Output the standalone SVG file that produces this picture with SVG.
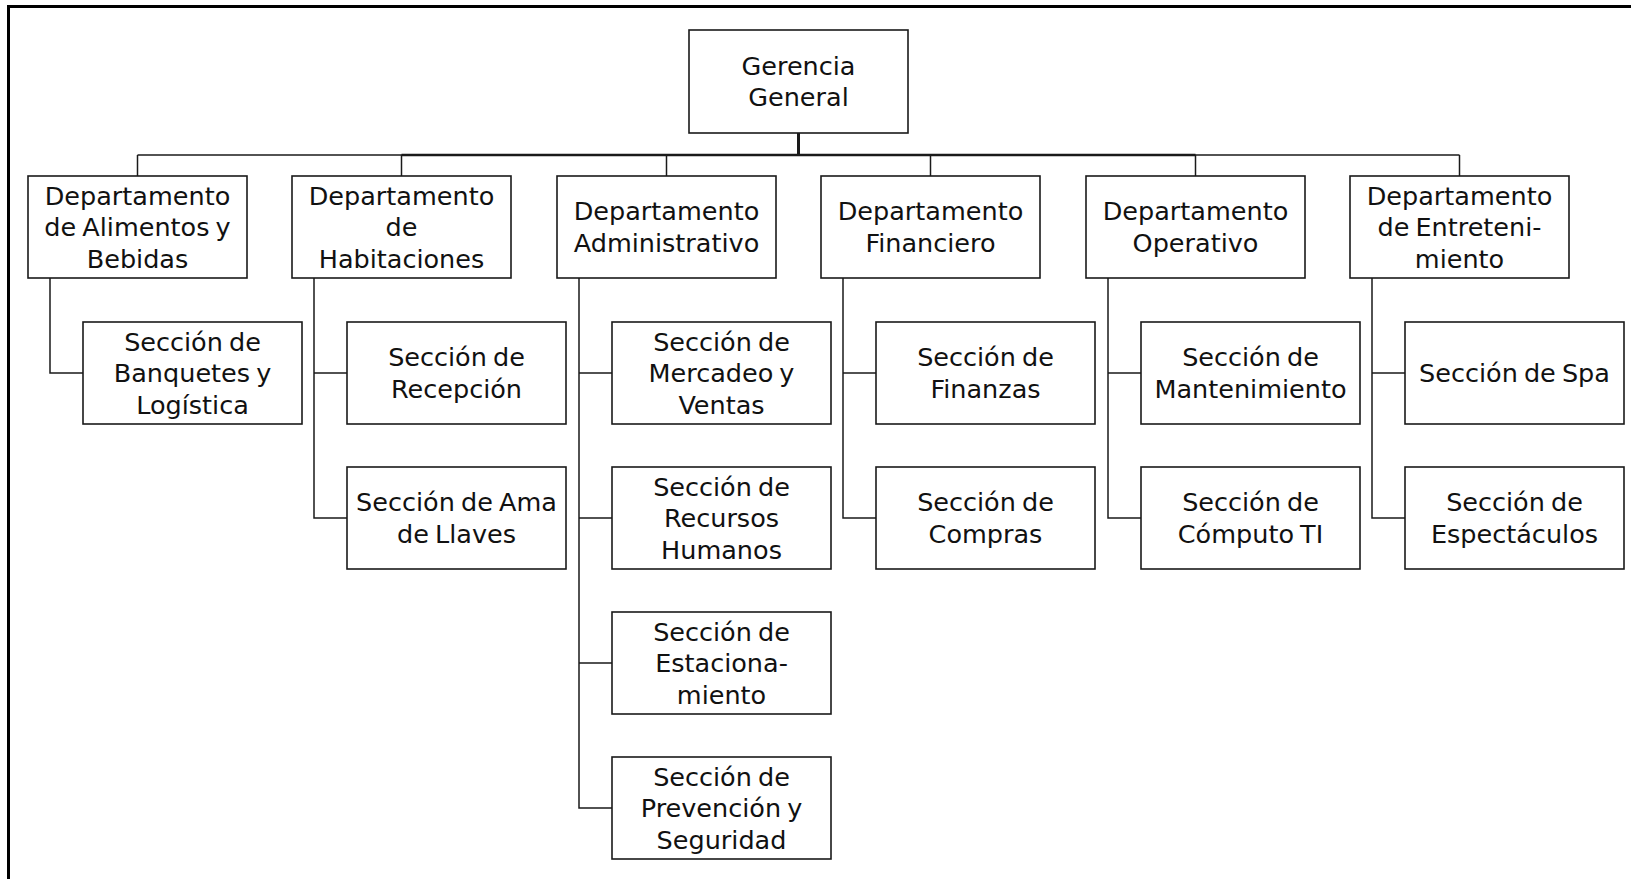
<svg xmlns="http://www.w3.org/2000/svg" width="1631" height="879" viewBox="0 0 1631 879">
<style>
.b{fill:#fff;stroke:#1a1a1a;stroke-width:1.6}
.c{fill:none;stroke:#1a1a1a;stroke-width:1.5}
.t{font-family:"DejaVu Sans",sans-serif;font-size:25.5px;word-spacing:-2px;text-anchor:middle;fill:#111}
</style>
<rect width="1631" height="879" fill="#fff"/>
<g id="frame" fill="none" stroke="#000" stroke-width="3">
<line x1="7" y1="6.5" x2="1631" y2="6.5"/>
<line x1="8.5" y1="5" x2="8.5" y2="879"/>
</g>
<g id="connectors">
<line class="c" x1="798.5" y1="133" x2="798.5" y2="155" style="stroke-width:3"/>
<line class="c" x1="137.5" y1="155" x2="1459.5" y2="155"/>
<line class="c" x1="401.5" y1="155" x2="1195.5" y2="155" style="stroke-width:2.4"/>
<line class="c" x1="137.5" y1="155" x2="137.5" y2="176"/>
<line class="c" x1="401.5" y1="155" x2="401.5" y2="176"/>
<line class="c" x1="666.5" y1="155" x2="666.5" y2="176"/>
<line class="c" x1="930.5" y1="155" x2="930.5" y2="176"/>
<line class="c" x1="1195.5" y1="155" x2="1195.5" y2="176"/>
<line class="c" x1="1459.5" y1="155" x2="1459.5" y2="176"/>
<path class="c" d="M50 278V373H83"/>
<path class="c" d="M314 278V518H347M314 373H347"/>
<path class="c" d="M579 278V808H612M579 373H612M579 518H612M579 663H612"/>
<path class="c" d="M843 278V518H876M843 373H876"/>
<path class="c" d="M1108 278V518H1141M1108 373H1141"/>
<path class="c" d="M1372 278V518H1405M1372 373H1405"/>
</g>
<g id="gerencia"><rect class="b" x="689" y="30" width="219" height="103"/><text class="t" x="798.5" y="74.75"><tspan x="798.5">Gerencia</tspan><tspan x="798.5" dy="31.5">General</tspan></text></g>
<g id="dep-alimentos"><rect class="b" x="28" y="176" width="219" height="102"/><text class="t" y="204.5"><tspan x="137.5">Departamento</tspan><tspan x="137.5" dy="31.5">de Alimentos y</tspan><tspan x="137.5" dy="31.5">Bebidas</tspan></text></g>
<g id="dep-habitaciones"><rect class="b" x="292" y="176" width="219" height="102"/><text class="t" y="204.5"><tspan x="401.5">Departamento</tspan><tspan x="401.5" dy="31.5">de</tspan><tspan x="401.5" dy="31.5">Habitaciones</tspan></text></g>
<g id="dep-administrativo"><rect class="b" x="557" y="176" width="219" height="102"/><text class="t" y="220.25"><tspan x="666.5">Departamento</tspan><tspan x="666.5" dy="31.5">Administrativo</tspan></text></g>
<g id="dep-financiero"><rect class="b" x="821" y="176" width="219" height="102"/><text class="t" y="220.25"><tspan x="930.5">Departamento</tspan><tspan x="930.5" dy="31.5">Financiero</tspan></text></g>
<g id="dep-operativo"><rect class="b" x="1086" y="176" width="219" height="102"/><text class="t" y="220.25"><tspan x="1195.5">Departamento</tspan><tspan x="1195.5" dy="31.5">Operativo</tspan></text></g>
<g id="dep-entretenimiento"><rect class="b" x="1350" y="176" width="219" height="102"/><text class="t" y="204.5"><tspan x="1459.5">Departamento</tspan><tspan x="1459.5" dy="31.5">de Entreteni-</tspan><tspan x="1459.5" dy="31.5">miento</tspan></text></g>
<g id="sec-banquetes"><rect class="b" x="83" y="322" width="219" height="102"/><text class="t" y="350.5"><tspan x="192.5">Sección de</tspan><tspan x="192.5" dy="31.5">Banquetes y</tspan><tspan x="192.5" dy="31.5">Logística</tspan></text></g>
<g id="sec-recepcion"><rect class="b" x="347" y="322" width="219" height="102"/><text class="t" y="366.25"><tspan x="456.5">Sección de</tspan><tspan x="456.5" dy="31.5">Recepción</tspan></text></g>
<g id="sec-ama"><rect class="b" x="347" y="467" width="219" height="102"/><text class="t" y="511.25"><tspan x="456.5">Sección de Ama</tspan><tspan x="456.5" dy="31.5">de Llaves</tspan></text></g>
<g id="sec-mercadeo"><rect class="b" x="612" y="322" width="219" height="102"/><text class="t" y="350.5"><tspan x="721.5">Sección de</tspan><tspan x="721.5" dy="31.5">Mercadeo y</tspan><tspan x="721.5" dy="31.5">Ventas</tspan></text></g>
<g id="sec-rrhh"><rect class="b" x="612" y="467" width="219" height="102"/><text class="t" y="495.5"><tspan x="721.5">Sección de</tspan><tspan x="721.5" dy="31.5">Recursos</tspan><tspan x="721.5" dy="31.5">Humanos</tspan></text></g>
<g id="sec-estacionamiento"><rect class="b" x="612" y="612" width="219" height="102"/><text class="t" y="640.5"><tspan x="721.5">Sección de</tspan><tspan x="721.5" dy="31.5">Estaciona-</tspan><tspan x="721.5" dy="31.5">miento</tspan></text></g>
<g id="sec-prevencion"><rect class="b" x="612" y="757" width="219" height="102"/><text class="t" y="785.5"><tspan x="721.5">Sección de</tspan><tspan x="721.5" dy="31.5">Prevención y</tspan><tspan x="721.5" dy="31.5">Seguridad</tspan></text></g>
<g id="sec-finanzas"><rect class="b" x="876" y="322" width="219" height="102"/><text class="t" y="366.25"><tspan x="985.5">Sección de</tspan><tspan x="985.5" dy="31.5">Finanzas</tspan></text></g>
<g id="sec-compras"><rect class="b" x="876" y="467" width="219" height="102"/><text class="t" y="511.25"><tspan x="985.5">Sección de</tspan><tspan x="985.5" dy="31.5">Compras</tspan></text></g>
<g id="sec-mantenimiento"><rect class="b" x="1141" y="322" width="219" height="102"/><text class="t" y="366.25"><tspan x="1250.5">Sección de</tspan><tspan x="1250.5" dy="31.5">Mantenimiento</tspan></text></g>
<g id="sec-computo"><rect class="b" x="1141" y="467" width="219" height="102"/><text class="t" y="511.25"><tspan x="1250.5">Sección de</tspan><tspan x="1250.5" dy="31.5">Cómputo TI</tspan></text></g>
<g id="sec-spa"><rect class="b" x="1405" y="322" width="219" height="102"/><text class="t" x="1514.5" y="382">Sección de Spa</text></g>
<g id="sec-espectaculos"><rect class="b" x="1405" y="467" width="219" height="102"/><text class="t" y="511.25"><tspan x="1514.5">Sección de</tspan><tspan x="1514.5" dy="31.5">Espectáculos</tspan></text></g>
</svg>
